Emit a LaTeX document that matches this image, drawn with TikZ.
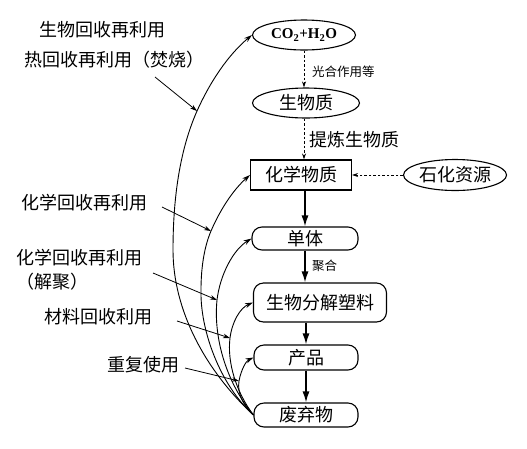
\documentclass[tikz,border=0pt]{standalone}
\usepackage{fontspec}
\setmainfont{Noto Sans CJK SC}
\newfontfamily\serifb{Liberation Serif}
\usetikzlibrary{arrows.meta,shapes.geometric}
\begin{document}
\begin{tikzpicture}[x=1pt,y=-1pt,
  lbl/.style={font=\fontsize{18}{20}\selectfont, inner sep=0pt},
  small/.style={font=\fontsize{12.5}{14}\selectfont, inner sep=0pt},
  ell/.style={draw, ellipse, line width=1.1pt, inner sep=0pt, font=\fontsize{18}{20}\selectfont},
  box/.style={draw, rectangle, line width=1.1pt, inner sep=0pt, font=\fontsize{18}{20}\selectfont},
  rbox/.style={draw, rectangle, rounded corners=10pt, line width=1.1pt, inner sep=0pt, font=\fontsize{18}{20}\selectfont},
  main/.style={line width=1.4pt, -{Latex[length=11pt,width=7pt]}},
  dashline/.style={line width=0.7pt, dashed, dash pattern=on 2.5pt off 2pt, -{Stealth[length=6pt,width=4pt]}},
  curve/.style={line width=0.9pt, -{Stealth[length=8pt,width=5pt]}},
  pointer/.style={line width=0.8pt, -{Stealth[length=7pt,width=4.5pt]}}
]
\useasboundingbox (0,0) rectangle (527,448);

% nodes
\node[ell, minimum width=103pt, minimum height=30pt] (co2) at (304,35)
  {\serifb\bfseries\fontsize{15}{17}\selectfont CO\textsubscript{2}+H\textsubscript{2}O};
\node[ell, minimum width=107pt, minimum height=30pt] (bm) at (306,103) {生物质};
\node[box, minimum width=101pt, minimum height=30pt] (chem) at (301,175) {化学物质};
\node[ell, minimum width=103pt, minimum height=31pt] (petro) at (455,175) {石化资源};
\node[rbox, minimum width=106pt, minimum height=23pt] (mono) at (305,238.5) {单体};
\node[rbox, minimum width=133pt, minimum height=39pt] (bio) at (320,302.5) {生物分解塑料};
\node[rbox, minimum width=104pt, minimum height=25pt] (prod) at (306,357.5) {产品};
\node[rbox, minimum width=104pt, minimum height=24pt] (waste) at (306,415) {废弃物};

% edge labels
\node[small, anchor=west] (lphoto) at (312,72) {光合作用等};
\node[lbl, anchor=west] (lrefine) at (309,140) {提炼生物质};
\node[small, anchor=west] (lpoly) at (312,266) {聚合};

% side labels
\node[lbl, anchor=west] (t1) at (39,30) {生物回收再利用};
\node[lbl, anchor=west] (t2) at (24,60) {热回收再利用（焚烧）};
\node[lbl, anchor=west] (t3) at (21,203) {化学回收再利用};
\node[lbl, anchor=west] (t4) at (16,258) {化学回收再利用};
\node[lbl, anchor=west] (t4b) at (16,282) {（解聚）};
\node[lbl, anchor=west] (t5) at (44,317) {材料回收利用};
\node[lbl, anchor=west] (t6) at (107,365) {重复使用};

% vertical flow
\draw[dashline] (co2.south) -- (bm.north -| co2.south);
\draw[dashline] (bm.south -| co2.south) -- (chem.north -| co2.south);
\draw[dashline] (petro.west) -- (chem.east);
\draw[main] (chem.south -| mono.north) -- (mono.north);
\draw[main] (mono.south) -- (bio.north -| mono.south);
\draw[main] (bio.south -| prod.north) -- (prod.north);
\draw[main] (prod.south) -- (waste.north);

% points on curves
\coordinate (p1) at (197,111);
\coordinate (p2) at (211,231);
\coordinate (p3) at (217,300);
\coordinate (p4) at (230,338);
\coordinate (p5) at (239,381);
\coordinate (q1) at (173,250);
\coordinate (q2) at (201,290);

% recycling curves
\draw[curve] (waste.west) .. controls (205,370) and (173,310) .. (q1)
  .. controls (173,190) and (182,145) .. (p1)
  .. controls (210,82) and (228,55) .. (co2.west);
\draw[curve] (waste.west) .. controls (220,385) and (200,330) .. (q2)
  .. controls (201,265) and (205,245) .. (p2)
  .. controls (220,210) and (233,190) .. (chem.west);
\draw[curve] (waste.west) .. controls (228,385) and (213,340) .. (p3)
  .. controls (220,275) and (233,250) .. (mono.west);
\draw[curve] (waste.west) .. controls (236,392) and (227,362) .. (p4)
  .. controls (232,322) and (240,308) .. (bio.west);
\draw[curve] (waste.west) .. controls (243,405) and (237,393) .. (p5)
  .. controls (241,370) and (246,361) .. (prod.west);

% pointers
\coordinate (s1) at (155,77);
\coordinate (s2) at (162,207);
\coordinate (s3) at (153,273);
\coordinate (s4) at (177,321);
\coordinate (s5) at (185,368);
\draw[pointer] (s1) -- (p1);
\draw[pointer] (s2) -- (p2);
\draw[pointer] (s3) -- (p3);
\draw[pointer] (s4) -- (p4);
\draw[pointer] (s5) -- (p5);
\end{tikzpicture}
\end{document}
